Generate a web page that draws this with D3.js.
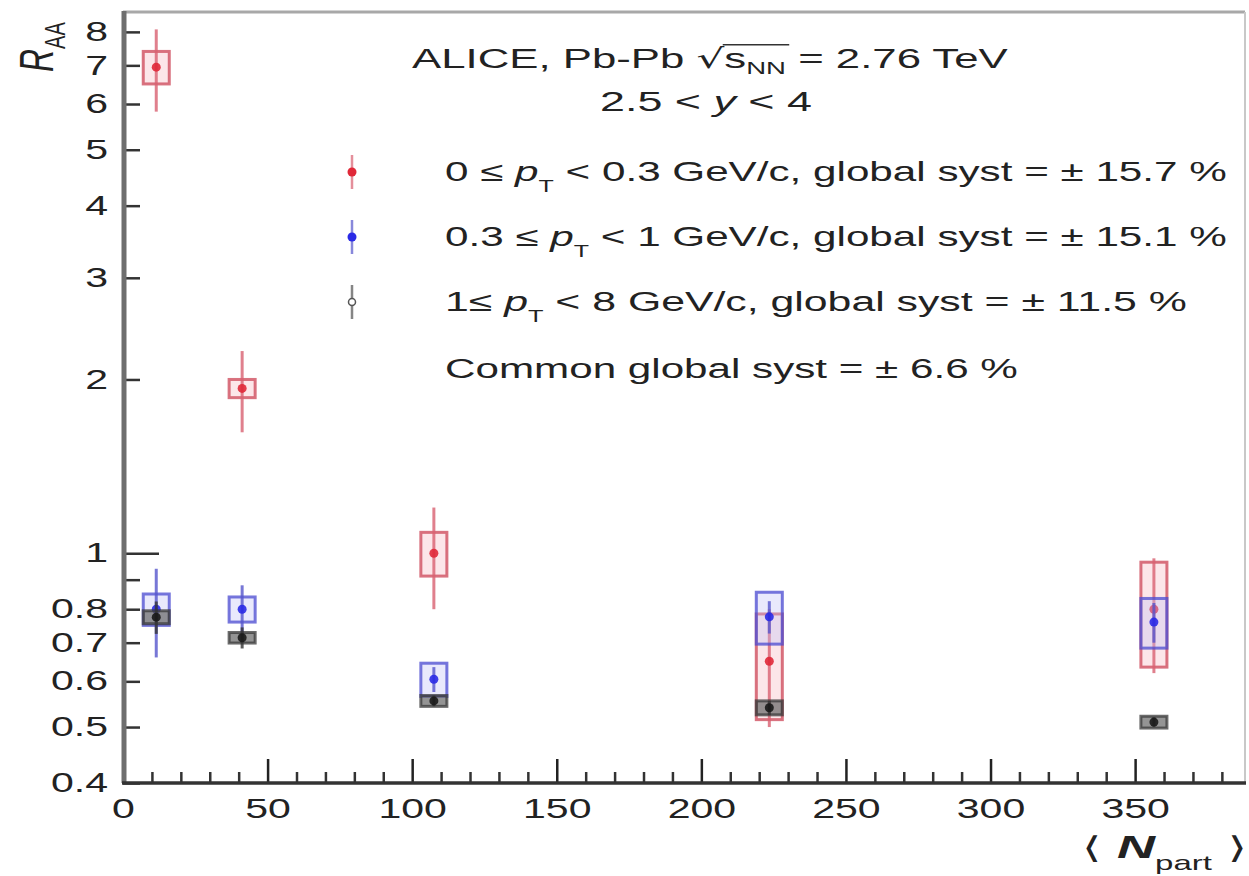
<!DOCTYPE html>
<html>
<head>
<meta charset="utf-8">
<script src="https://cdn.jsdelivr.net/npm/d3@7"></script>
<style>
  html, body { margin: 0; padding: 0; background: #fff; }
  svg { display: block; }
  text { font-family: "Liberation Sans", Arial, sans-serif; fill: #222; }
</style>
</head>
<body>
<script>
// Nuclear modification factor of inclusive J/psi vs. <Npart>, three pT intervals
const npart = [11.5, 41.2, 107.5, 223.5, 356.5];

const lowPtRaa  = [6.95, 1.93, 1.0, 0.65, 0.80];
const lowPtStat = [1.13, 0.31, 0.20, 0.15, 0.18];
const lowPtSyst = [0.45, 0.07, 0.087, 0.135, 0.165];

const midPtRaa  = [0.80, 0.80, 0.605, 0.776, 0.76];
const midPtStat = [0.14, 0.08, 0.03, 0.05, 0.06];
const midPtSyst = [0.05, 0.04, 0.04, 0.08, 0.075];

const highPtRaa  = [0.775, 0.714, 0.555, 0.54, 0.51];
const highPtStat = [0.05, 0.03, 0.012, 0.015, 0.01];
const highPtSyst = [0.02, 0.015, 0.012, 0.015, 0.012];

const systBoxWidth = 9; // Npart units

const xMajorTicks = [0, 50, 100, 150, 200, 250, 300, 350];
const xMinorTicks = d3.range(10, 390, 10).filter(v => v % 50 !== 0);
const yTicks = [0.4, 0.5, 0.6, 0.7, 0.8, 0.9, 1, 2, 3, 4, 5, 6, 7, 8];
const yUnlabelled = [0.9];

const legendPrefixes = ["0 \u2264 ", "0.3 \u2264 ", "1\u2264 "];
const legendSuffixes = [
  " < 0.3 GeV/c, global syst = \u00b1 15.7 %",
  " < 1 GeV/c, global syst = \u00b1 15.1 %",
  " < 8 GeV/c, global syst = \u00b1 11.5 %"
];
const commonSystLabel = "Common global syst = \u00b1 6.6 %";

const W = 1249, H = 876;
const frame = { left: 123, right: 1245, top: 12, bottom: 783 };

const svg = d3.select("body").append("svg").attr("width", W).attr("height", H);
svg.append("rect").attr("width", W).attr("height", H).attr("fill", "#fff");

const x = d3.scaleLinear().domain([0, 388]).range([frame.left, frame.right]);
const y = d3.scaleLog().domain([0.4, 8.66]).range([frame.bottom, frame.top]);

const SX = 1.52; // horizontal glyph stretch
const FS = 27;

// frame lines
svg.append("line").attr("x1", frame.left).attr("x2", frame.right).attr("y1", frame.top).attr("y2", frame.top)
  .attr("stroke", "#a8a8a8").attr("stroke-width", 3);
svg.append("line").attr("x1", frame.right).attr("x2", frame.right).attr("y1", frame.top).attr("y2", frame.bottom)
  .attr("stroke", "#c8c8c8").attr("stroke-width", 2);

// y axis
const yAxis = d3.axisLeft(y).tickValues(yTicks)
  .tickFormat(d => yUnlabelled.includes(d) ? "" : d3.format("~g")(d))
  .tickSize(-17).tickPadding(15);
const gy = svg.append("g").attr("transform", `translate(${frame.left},0)`).call(yAxis);
gy.select(".domain").remove();
gy.selectAll(".tick line").attr("stroke", "#333").attr("stroke-width", 2.5)
  .attr("x2", d => d === 1 ? 36 : 17);
gy.selectAll(".tick text").attr("font-size", FS).attr("fill", "#222")
  .attr("font-family", "Liberation Sans, Arial, sans-serif")
  .attr("x", -15 / SX).attr("transform", `scale(${SX},1)`);

// x axis
const xAxis = d3.axisBottom(x).tickValues(xMajorTicks).tickFormat(d3.format("d"))
  .tickSize(-24).tickPadding(16);
const gx = svg.append("g").attr("transform", `translate(0,${frame.bottom})`).call(xAxis);
gx.select(".domain").remove();
gx.selectAll(".tick line").attr("stroke", "#222").attr("stroke-width", 2.5);
gx.selectAll(".tick text").attr("font-size", FS).attr("fill", "#222")
  .attr("font-family", "Liberation Sans, Arial, sans-serif")
  .attr("transform", `scale(${SX},1)`);

const gxMinor = d3.axisBottom(x).tickValues(xMinorTicks).tickFormat("").tickSize(-11);
const gxm = svg.append("g").attr("transform", `translate(0,${frame.bottom})`).call(gxMinor);
gxm.select(".domain").remove();
gxm.selectAll(".tick line").attr("stroke", "#333").attr("stroke-width", 2.5);

// axis lines
svg.append("line").attr("x1", frame.left + 1).attr("x2", frame.left + 1).attr("y1", frame.top - 1).attr("y2", frame.bottom)
  .attr("stroke", "#6e6e6e").attr("stroke-width", 5);
svg.append("line").attr("x1", frame.left - 1).attr("x2", frame.right + 1).attr("y1", frame.bottom).attr("y2", frame.bottom)
  .attr("stroke", "#333").attr("stroke-width", 3.5);

// data series
const series = [
  { raa: lowPtRaa, stat: lowPtStat, syst: lowPtSyst, marker: "#e02838", line: "#d86070", box: "#cc4455", fill: "#f6b8c0", fillOp: 0.35 },
  { raa: midPtRaa, stat: midPtStat, syst: midPtSyst, marker: "#2a2ae6", line: "#5555cc", box: "#4a4ad0", fill: "#c0c0f6", fillOp: 0.35 },
  { raa: highPtRaa, stat: highPtStat, syst: highPtSyst, marker: "#1a1a1a", line: "#333", box: "#3a3a3a", fill: "#666", fillOp: 0.7 }
];

const gData = svg.append("g");
series.forEach(s => {
  const pts = npart.map((n, i) => ({ n, v: s.raa[i], st: s.stat[i], sy: s.syst[i] }));
  const g = gData.append("g");
  g.selectAll("rect.syst").data(pts).join("rect").attr("class", "syst")
    .attr("x", d => x(d.n - systBoxWidth / 2))
    .attr("width", d => x(d.n + systBoxWidth / 2) - x(d.n - systBoxWidth / 2))
    .attr("y", d => y(d.v + d.sy))
    .attr("height", d => y(d.v - d.sy) - y(d.v + d.sy))
    .attr("fill", s.fill).attr("fill-opacity", s.fillOp)
    .attr("stroke", s.box).attr("stroke-opacity", 0.75).attr("stroke-width", 3);
  g.selectAll("line.stat").data(pts).join("line").attr("class", "stat")
    .attr("x1", d => x(d.n)).attr("x2", d => x(d.n))
    .attr("y1", d => y(d.v + d.st)).attr("y2", d => y(d.v - d.st))
    .attr("stroke", s.line).attr("stroke-opacity", 0.8).attr("stroke-width", 3);
  g.selectAll("circle").data(pts).join("circle")
    .attr("cx", d => x(d.n)).attr("cy", d => y(d.v)).attr("r", 4.5)
    .attr("fill", s.marker).attr("fill-opacity", 0.9);
});

// helper: place a text group starting at x0 on baseline yb, stretched to a given width
function fitted(x0, yb, width, build) {
  const g = svg.append("g");
  const t = g.append("text").attr("x", 0).attr("y", 0).attr("font-size", FS);
  build(t);
  const bb = g.node().getBBox();
  const s = width / bb.width;
  g.attr("transform", `translate(${x0 - bb.x * s},${yb}) scale(${s},1)`);
  return { g, t, s };
}

// header
const title = fitted(412, 68, 596, t => {
  t.append("tspan").text("ALICE, Pb-Pb ");
  t.append("tspan").attr("font-family", "DejaVu Sans").text("\u221a");
  t.append("tspan").text("s");
  t.append("tspan").attr("font-size", 17).attr("dy", 6).text("NN");
  t.append("tspan").attr("dy", -6).text(" = 2.76 TeV");
});
{
  const node = title.t.node();
  const rad = node.getExtentOfChar(13);
  const lastN = node.getExtentOfChar(16);
  title.g.append("line")
    .attr("x1", rad.x + rad.width - 1).attr("x2", lastN.x + lastN.width + 2)
    .attr("y1", rad.y + 2).attr("y2", rad.y + 2)
    .attr("stroke", "#333").attr("stroke-width", 1.5);
}
fitted(600, 111, 212, t => {
  t.append("tspan").text("2.5 < ");
  t.append("tspan").attr("font-style", "italic").text("y");
  t.append("tspan").text(" < 4");
});

// legend
const legendY = [172, 237, 302];
const legendWidths = [782, 782, 742];
series.forEach((s, i) => {
  const cy = legendY[i];
  svg.append("line").attr("x1", 352).attr("x2", 352).attr("y1", cy - 17).attr("y2", cy + 17)
    .attr("stroke", s.line).attr("stroke-opacity", i === 2 ? 0.6 : 0.7).attr("stroke-width", 2.5);
  if (i === 2) {
    svg.append("circle").attr("cx", 352).attr("cy", cy).attr("r", 3.5)
      .attr("fill", "#fff").attr("stroke", "#555").attr("stroke-width", 1.5);
  } else {
    svg.append("circle").attr("cx", 352).attr("cy", cy).attr("r", 4.5).attr("fill", s.marker);
  }
  fitted(445, cy + 9, legendWidths[i], t => {
    t.append("tspan").text(legendPrefixes[i]);
    t.append("tspan").attr("font-style", "italic").text("p");
    t.append("tspan").attr("font-size", 16).attr("dy", 11).text("T");
    t.append("tspan").attr("dy", -11).text(legendSuffixes[i]);
  });
});
fitted(445, 378, 573, t => t.text(commonSystLabel));

// x-axis title
fitted(1082, 858, 165, t => {
  t.append("tspan").attr("font-family", "DejaVu Sans").attr("font-size", 30).text("\u27e8 ");
  t.append("tspan").attr("font-style", "italic").attr("font-weight", "bold").attr("font-size", 32).text("N");
  t.append("tspan").attr("font-size", 20).attr("dy", 12).text("part");
  t.append("tspan").attr("dy", -12).attr("font-family", "DejaVu Sans").attr("font-size", 30).text(" \u27e9");
});

// y-axis title
const ylab = svg.append("g").attr("transform", `translate(53,72) scale(${SX},1) rotate(-90)`);
const yt = ylab.append("text").attr("x", 0).attr("y", 0).attr("font-size", 32);
yt.append("tspan").attr("font-style", "italic").text("R");
yt.append("tspan").attr("font-size", 20).attr("dy", 8).text("AA");
</script>
</body>
</html>
